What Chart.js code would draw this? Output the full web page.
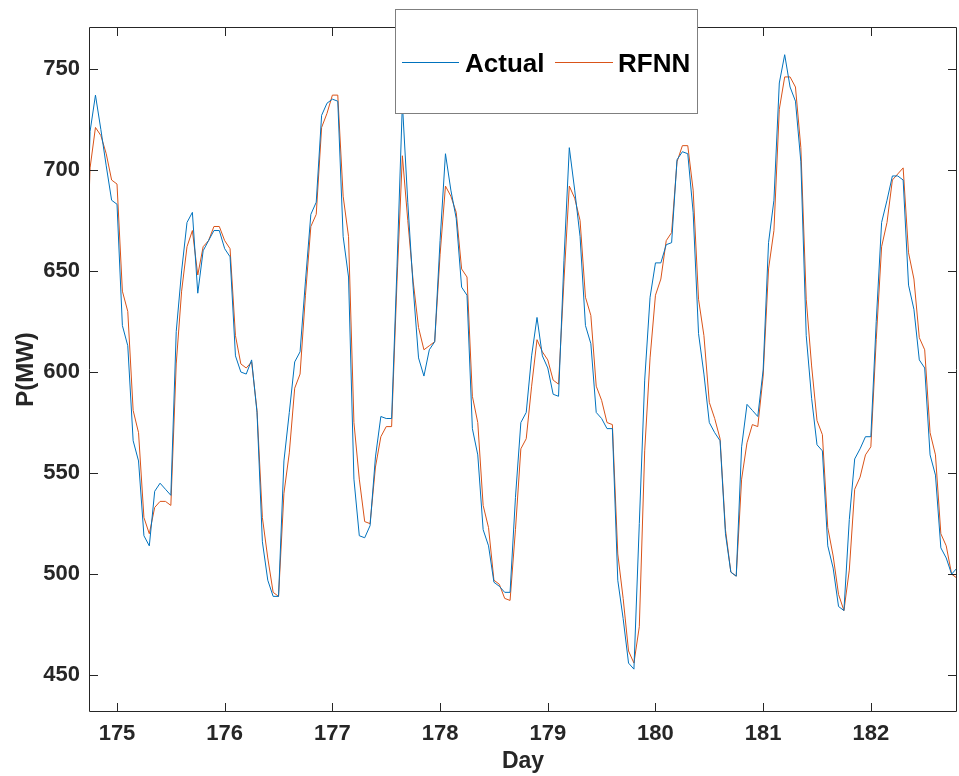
<!DOCTYPE html>
<html>
<head>
<meta charset="utf-8">
<title>Actual vs RFNN</title>
<script src="https://cdn.jsdelivr.net/npm/chart.js@4.4.1/dist/chart.umd.min.js"></script>
<style>
  html, body { margin: 0; padding: 0; background: #fff; }
  #wrap { width: 959px; height: 776px; }
</style>
</head>
<body>
<div id="wrap"><canvas id="chart" width="959" height="776"></canvas></div>
<script>
// 20 samples per day, first one sits just left of the axis and is clipped
const startDay = 174.70;
const stepDay = 0.05;

const actual = [
  627, 719, 737, 720, 702, 685, 683, 623, 613, 566, 556, 519, 514, 541, 545, 542, 539, 620, 650, 674,
  679, 639, 660, 665, 670, 670, 661, 657, 608, 600, 599, 606, 580, 516, 497, 489, 489, 556, 580, 605,
  610, 645, 678, 684, 727, 733, 735, 734, 667, 647, 547, 519, 518, 524, 558, 578, 577, 577, 652, 733,
  684, 642, 607, 598, 611, 615, 665, 708, 690, 676, 642, 638, 572, 559, 522, 514, 496, 494, 491, 491,
  538, 575, 580, 608, 627, 608, 602, 589, 588, 655, 711, 690, 667, 623, 614, 580, 577, 572, 572, 497,
  478, 456, 453, 525, 596, 637, 654, 654, 663, 664, 705, 709, 708, 679, 619, 599, 575, 570, 566, 520,
  501, 499, 563, 584, 581, 578, 601, 664, 685, 743, 757, 741, 734, 704, 618, 587, 564, 561, 514, 503,
  484, 482, 527, 557, 562, 568, 568, 625, 674, 685, 697, 697, 695, 643, 631, 606, 602, 559, 549, 513,
  508, 500, 503
];

const rfnn = [
  622, 701, 721, 717, 708, 695, 693, 640, 630, 581, 570, 528, 520, 533, 536, 536, 534, 604, 640, 662,
  670, 648, 662, 665, 672, 672, 665, 661, 618, 604, 602, 605, 581, 528, 508, 491, 489, 540, 560, 592,
  599, 638, 672, 678, 721, 728, 737, 737, 687, 667, 575, 547, 526, 525, 553, 568, 573, 573, 645, 707,
  675, 645, 622, 611, 613, 615, 658, 692, 687, 679, 651, 647, 588, 575, 534, 523, 497, 495, 488, 487,
  522, 562, 567, 593, 616, 610, 606, 596, 594, 645, 692, 686, 675, 637, 628, 593, 586, 575, 574, 510,
  488, 462, 456, 474, 561, 607, 638, 646, 665, 669, 704, 712, 712, 690, 636, 618, 585, 577, 567, 522,
  501, 499, 547, 565, 574, 573, 598, 651, 670, 730, 746, 746, 741, 711, 636, 603, 576, 569, 523, 509,
  490, 482, 502, 542, 548, 559, 563, 616, 662, 674, 695, 698, 701, 659, 646, 617, 611, 570, 559, 520,
  514, 500, 498
];

const xTicks = [175, 176, 177, 178, 179, 180, 181, 182];
const yTicks = [450, 500, 550, 600, 650, 700, 750];
const xRange = [174.74, 182.80];
const yRange = [431.8, 770.7];

const axisColor = '#262626';
const fontFamily = '"Liberation Sans", Arial, Helvetica, sans-serif';

const toPoints = arr => arr.map((v, i) => ({ x: startDay + i * stepDay, y: v }));

// MATLAB style box with inward ticks on all four sides
const boxAxes = {
    id: 'boxAxes',
    afterDatasetsDraw(chart) {
        const { ctx, chartArea: a, scales } = chart;
        const len = 9;
        ctx.save();
        ctx.strokeStyle = axisColor;
        ctx.lineWidth = 1;
        ctx.beginPath();
        ctx.rect(a.left + 0.5, a.top + 0.5, a.right - a.left - 1, a.bottom - a.top - 1);
        xTicks.forEach(v => {
            const px = Math.round(scales.x.getPixelForValue(v)) + 0.5;
            ctx.moveTo(px, a.bottom); ctx.lineTo(px, a.bottom - len);
            ctx.moveTo(px, a.top); ctx.lineTo(px, a.top + len);
        });
        yTicks.forEach(v => {
            const py = Math.round(scales.y.getPixelForValue(v)) + 0.5;
            ctx.moveTo(a.left, py); ctx.lineTo(a.left + len, py);
            ctx.moveTo(a.right, py); ctx.lineTo(a.right - len, py);
        });
        ctx.stroke();
        ctx.restore();
    }
};

// legend box sitting over the top edge of the axes
const topLegend = {
    id: 'topLegend',
    afterDraw(chart) {
        const { ctx } = chart;
        const box = { x: 395.5, y: 9.5, w: 302, h: 104 };
        ctx.save();
        ctx.fillStyle = '#ffffff';
        ctx.fillRect(box.x, box.y, box.w, box.h);
        ctx.strokeStyle = '#7f7f7f';
        ctx.lineWidth = 1;
        ctx.strokeRect(box.x, box.y, box.w, box.h);
        ctx.font = 'bold 26px ' + fontFamily;
        ctx.textBaseline = 'alphabetic';
        ctx.fillStyle = '#000000';
        const items = [
            { x1: 402, x2: 459, tx: 465 },
            { x1: 555, x2: 613, tx: 618 }
        ];
        chart.data.datasets.forEach((ds, i) => {
            const it = items[i];
            ctx.strokeStyle = ds.borderColor;
            ctx.lineWidth = 1;
            ctx.beginPath();
            ctx.moveTo(it.x1, 62.5);
            ctx.lineTo(it.x2, 62.5);
            ctx.stroke();
            ctx.fillText(ds.label, it.tx, 72);
        });
        ctx.restore();
    }
};

new Chart(document.getElementById('chart'), {
    type: 'line',
    data: {
        datasets: [
            { label: 'Actual', data: toPoints(actual), borderColor: '#0072BD', borderWidth: 1 },
            { label: 'RFNN', data: toPoints(rfnn), borderColor: '#D95319', borderWidth: 1 }
        ]
    },
    options: {
        responsive: false,
        animation: false,
        devicePixelRatio: 1,
        layout: { padding: { top: 27, right: 2, left: 0, bottom: 0 } },
        elements: { point: { radius: 0 }, line: { tension: 0 } },
        plugins: { legend: { display: false }, tooltip: { enabled: false } },
        scales: {
            x: {
                type: 'linear',
                min: xRange[0],
                max: xRange[1],
                afterBuildTicks: s => { s.ticks = xTicks.map(v => ({ value: v })); },
                afterFit: s => { s.height = 64; },
                grid: { display: false, drawTicks: false },
                border: { display: false },
                ticks: {
                    color: axisColor, padding: 9, maxRotation: 0, autoSkip: false,
                    font: { family: fontFamily, size: 22, weight: 'bold' }
                },
                title: {
                    display: true, text: 'Day', color: axisColor,
                    font: { family: fontFamily, size: 23, weight: 'bold' },
                    padding: { top: 0, bottom: 1 }
                }
            },
            y: {
                min: yRange[0],
                max: yRange[1],
                afterBuildTicks: s => { s.ticks = yTicks.map(v => ({ value: v })); },
                afterFit: s => { s.width = 89; },
                grid: { display: false, drawTicks: false },
                border: { display: false },
                ticks: {
                    color: axisColor, padding: 9,
                    font: { family: fontFamily, size: 22, weight: 'bold' }
                },
                title: {
                    display: true, text: 'P(MW)', color: axisColor,
                    font: { family: fontFamily, size: 24, weight: 'bold' },
                    padding: { top: 12, bottom: 0 }
                }
            }
        }
    },
    plugins: [boxAxes, topLegend]
});
</script>
</body>
</html>
